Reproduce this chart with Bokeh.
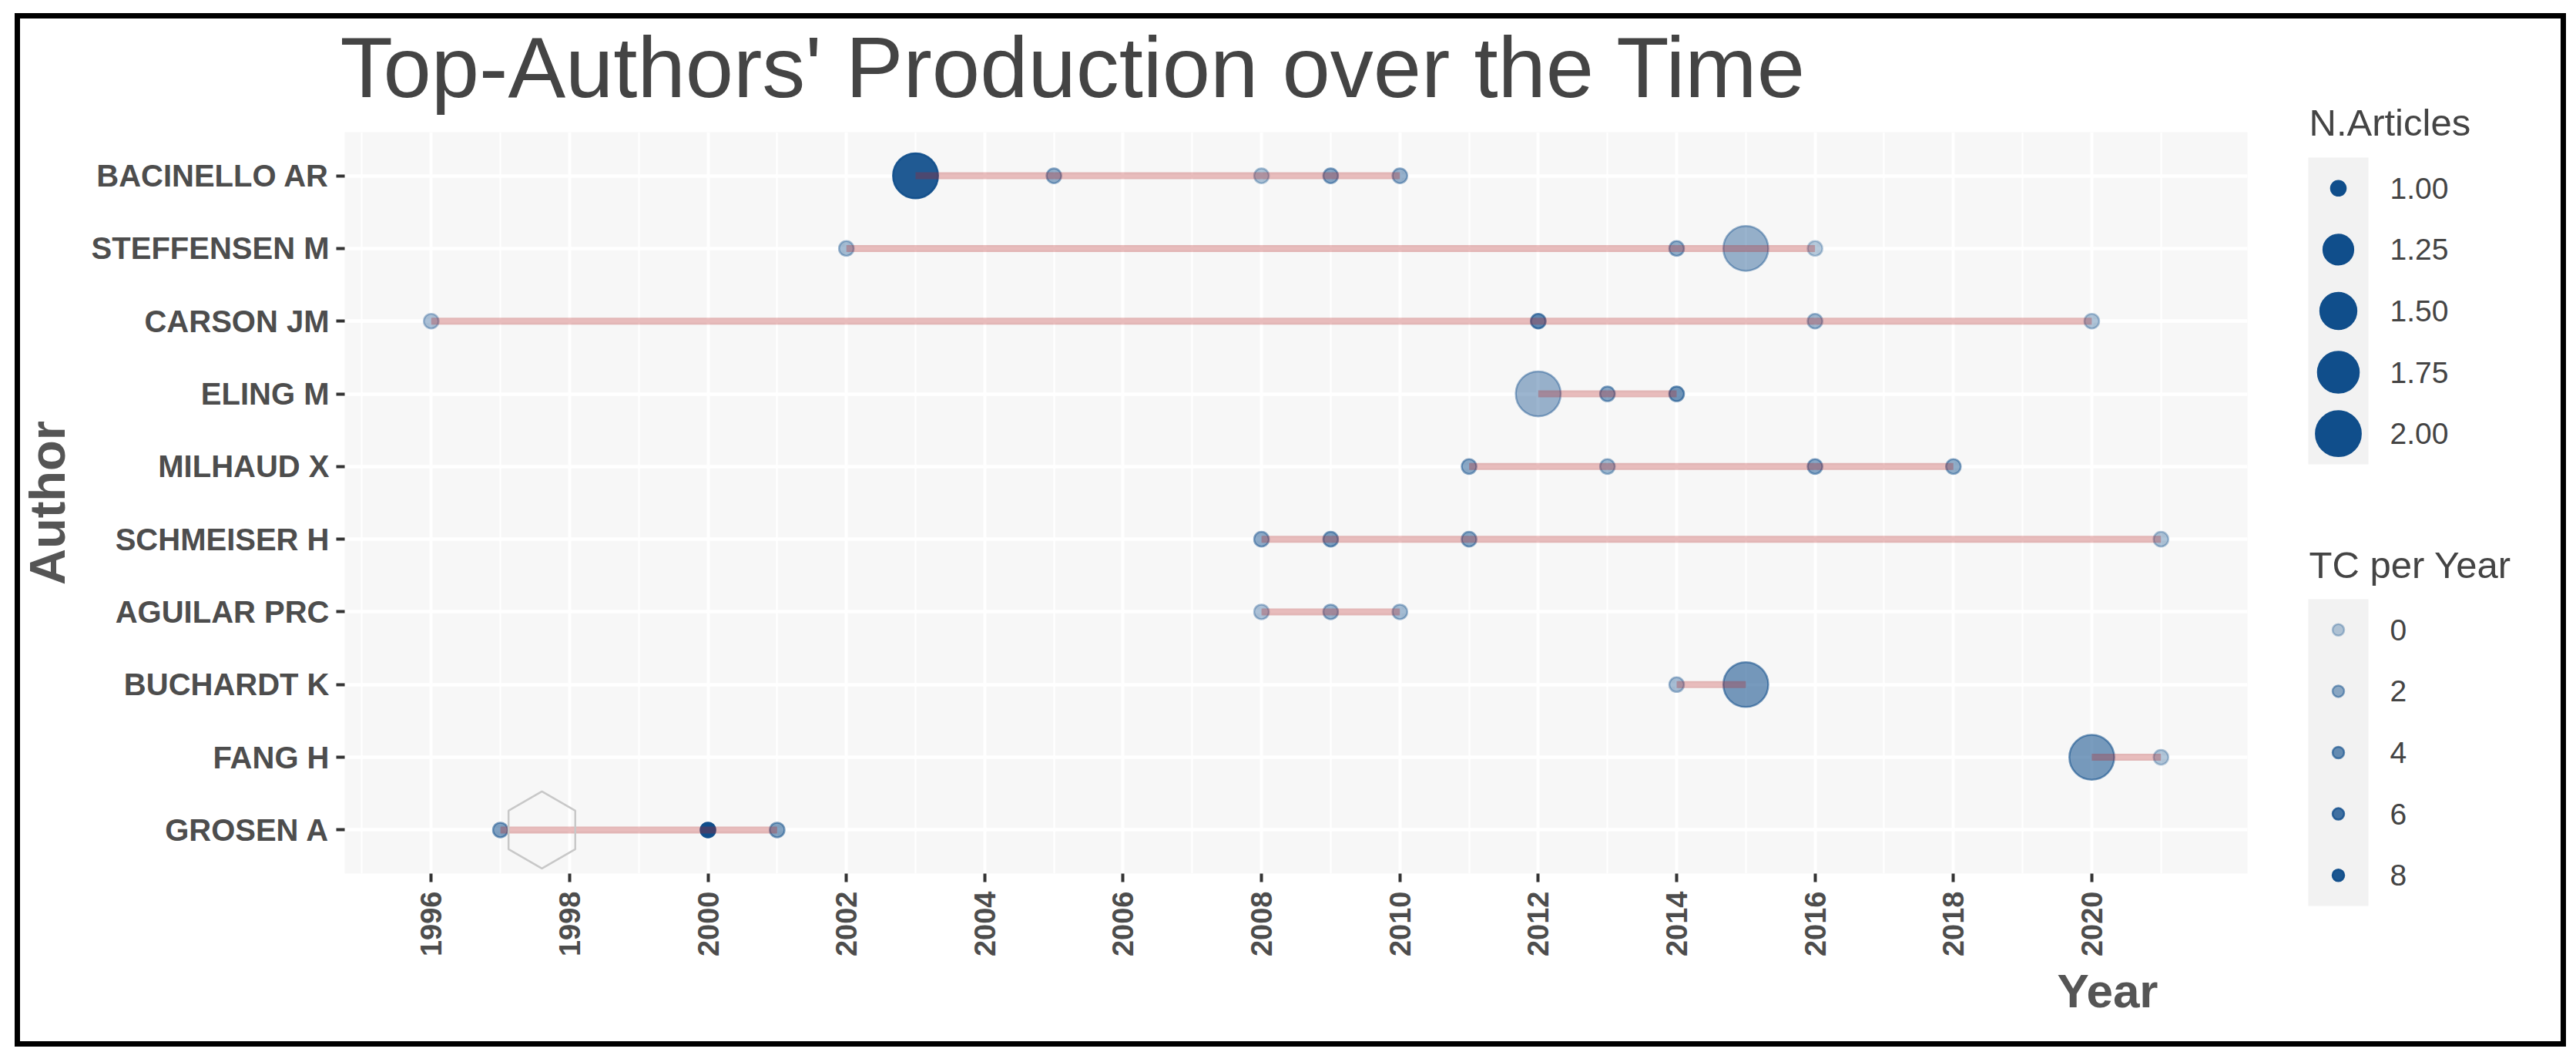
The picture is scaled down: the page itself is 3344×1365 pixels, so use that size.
import math
from bokeh.plotting import figure
from bokeh.models import Range1d, FixedTicker, Title, ColumnDataSource, Div
from bokeh.core.properties import value
from bokeh.embed import file_html
from bokeh.resources import INLINE

# ---------------- data ----------------
authors = ["BACINELLO AR", "STEFFENSEN M", "CARSON JM", "ELING M", "MILHAUD X",
           "SCHMEISER H", "AGUILAR PRC", "BUCHARDT K", "FANG H", "GROSEN A"]

pt_author = ["BACINELLO AR"] * 5 + ["STEFFENSEN M"] * 4 + ["CARSON JM"] * 4 + \
            ["ELING M"] * 3 + ["MILHAUD X"] * 4 + ["SCHMEISER H"] * 4 + \
            ["AGUILAR PRC"] * 3 + ["BUCHARDT K"] * 2 + ["FANG H"] * 2 + ["GROSEN A"] * 3
pt_year = [2003, 2005, 2008, 2009, 2010,
           2002, 2014, 2015, 2016,
           1996, 2012, 2016, 2020,
           2012, 2013, 2014,
           2011, 2013, 2016, 2018,
           2008, 2009, 2011, 2021,
           2008, 2009, 2010,
           2014, 2015,
           2020, 2021,
           1997, 2000, 2001]
pt_articles = [2, 1, 1, 1, 1,
               1, 1, 2, 1,
               1, 1, 1, 1,
               2, 1, 1,
               1, 1, 1, 1,
               1, 1, 1, 1,
               1, 1, 1,
               1, 2,
               2, 1,
               1, 1, 1]
pt_tcpy = [7.8, 1.9, 0.5, 2.5, 1.7,
           1.0, 2.0, 1.5, 0.0,
           0.6, 4.5, 1.2, 0.4,
           1.4, 2.6, 3.7,
           2.3, 1.3, 2.5, 2.0,
           2.2, 3.0, 2.4, 0.4,
           0.6, 1.5, 1.0,
           0.9, 3.3,
           3.2, 0.2,
           2.8, 8.6, 2.7]

year_breaks = list(range(1996, 2021, 2))
size_breaks = [1.00, 1.25, 1.50, 1.75, 2.00]
size_labels = ["1.00", "1.25", "1.50", "1.75", "2.00"]
alpha_breaks = [0, 2, 4, 6, 8]
alpha_labels = ["0", "2", "4", "6", "8"]

# ---------------- scales ----------------
POINT_COLOR = "#104E8B"
MM = 9.8
nmin, nmax = min(pt_articles), max(pt_articles)
tmin, tmax = min(pt_tcpy), max(pt_tcpy)


def size_px(n):
    r = (n - nmin) / (nmax - nmin)
    return MM * (2 + 4 * math.sqrt(max(r, 0))) - 0.5


def alpha_of(t):
    return 0.3 + 0.7 * (t - tmin) / (tmax - tmin)


n_auth = len(authors)
ypos_of = {a: n_auth - i for i, a in enumerate(authors)}

src = ColumnDataSource(dict(
    year=pt_year,
    y=[ypos_of[a] for a in pt_author],
    size=[size_px(n) for n in pt_articles],
    alpha=[alpha_of(t) for t in pt_tcpy],
))

seg_start, seg_end, seg_y = [], [], []
for a in authors:
    ys = [yr for au, yr in zip(pt_author, pt_year) if au == a]
    seg_start.append(min(ys))
    seg_end.append(max(ys))
    seg_y.append(ypos_of[a])
seg_src = ColumnDataSource(dict(x0=seg_start, x1=seg_end, y=seg_y))

ymin, ymax = min(pt_year), max(pt_year)
span = ymax - ymin

# ---------------- main figure ----------------
W_ALL, H_ALL = 3326, 1353
p = figure(width=W_ALL, height=H_ALL, output_backend="svg", toolbar_location=None,
           x_range=Range1d(ymin - 0.05 * span, ymax + 0.05 * span),
           y_range=Range1d(1 - 0.6, n_auth + 0.6),
           min_border_left=447, min_border_right=409, min_border_top=171,
           min_border_bottom=220)
p.background_fill_color = "#F7F7F7"
p.border_fill_color = "white"
p.outline_line_color = None

p.title.text = "Top-Authors' Production over the Time"
p.title.text_font = "Liberation Sans"
p.title.text_font_size = "112px"
p.title.text_font_style = "normal"
p.title.text_color = "#444444"
p.title.align = "left"
p.title.offset = -6
p.title.standoff = 44

minor_years = list(range(ymin - 1, ymax + 1, 2))
p.xaxis.ticker = FixedTicker(ticks=year_breaks, minor_ticks=minor_years)
p.yaxis.ticker = FixedTicker(ticks=[ypos_of[a] for a in authors])
p.yaxis.major_label_overrides = {ypos_of[a]: a for a in authors}

for ax in (p.xaxis[0], p.yaxis[0]):
    ax.axis_line_color = None
    ax.major_tick_in = 0
    ax.major_tick_out = 11
    ax.major_tick_line_width = 4
    ax.major_tick_line_color = "#333333"
    ax.minor_tick_line_color = None
    ax.major_label_text_font = "Liberation Sans"
    ax.major_label_text_font_style = "bold"
    ax.major_label_text_color = "#4D4D4D"
p.xaxis.major_label_text_font_size = "38px"
p.xaxis.major_label_orientation = math.pi / 2
p.xaxis.major_label_standoff = 12
p.yaxis.major_label_text_font_size = "40px"
p.yaxis.major_label_standoff = 9

p.yaxis.axis_label = "Author"
p.yaxis.axis_label_text_font = "Liberation Sans"
p.yaxis.axis_label_text_font_style = "bold"
p.yaxis.axis_label_text_font_size = "65px"
p.yaxis.axis_label_text_color = "#555555"
p.yaxis.axis_label_standoff = 18

p.add_layout(Title(text="Year", align="right", offset=116, vertical_align="top",
                   standoff=12, text_font="Liberation Sans", text_font_style="bold",
                   text_font_size="62px", text_color="#555555"), "below")

p.xgrid.grid_line_color = "white"
p.xgrid.grid_line_width = 4
p.xgrid.minor_grid_line_color = "white"
p.xgrid.minor_grid_line_width = 2.2
p.ygrid.grid_line_color = "white"
p.ygrid.grid_line_width = 4.5

p.scatter(x="year", y="y", size="size", source=src, marker="circle",
          fill_color=POINT_COLOR, fill_alpha="alpha",
          line_color=POINT_COLOR, line_alpha="alpha", line_width=2.5)
p.segment(x0="x0", y0="y", x1="x1", y1="y", source=seg_src,
          line_color="firebrick", line_alpha=0.3, line_width=9, line_cap="butt")

# faint hexagonal watermark
WM_X, WM_Y = 1997.6, 1.0
p.scatter(x=[WM_X], y=[WM_Y], marker="hex", size=100, angle=math.pi / 2,
          fill_color=None, line_color="#C8C8C8", line_width=2.5)

# ---------------- legend figure (overlaid on the right margin) ----------------
W_LEG, H_LEG = 359, 1330
q = figure(width=W_LEG, height=H_LEG, output_backend="svg", toolbar_location=None,
           x_range=Range1d(0, W_LEG), y_range=Range1d(H_LEG, 0),
           x_axis_location=None, y_axis_location=None,
           min_border=0, min_border_left=0, min_border_right=0,
           min_border_top=0, min_border_bottom=0)
q.background_fill_color = "white"
q.border_fill_color = "white"
q.outline_line_color = None
q.grid.visible = False
q.styles = {"position": "absolute", "left": "2958px", "top": "15px"}

KEY_L, KEY_R = 38, 116
KEY_H = 79.6
LAB_X = 144
KEY_CX = (KEY_L + KEY_R) / 2


def legend_block(title, top, labels, sizes, alphas, title_mid):
    n = len(labels)
    q.quad(left=[KEY_L], right=[KEY_R], top=[top], bottom=[top + KEY_H * n],
           fill_color="#F2F2F2", line_color=None)
    cy = [top + KEY_H * (i + 0.5) for i in range(n)]
    q.scatter(x=[KEY_CX] * n, y=cy, size=sizes, fill_color=POINT_COLOR,
              fill_alpha=alphas, line_color=POINT_COLOR, line_alpha=alphas,
              line_width=2.5)
    q.text(x=[LAB_X] * n, y=cy, text=labels,
           text_font=value("Liberation Sans"), text_font_size="39px",
           text_color="#444444", text_baseline="middle")
    q.text(x=[KEY_L + 1], y=[title_mid], text=[title],
           text_font=value("Liberation Sans"), text_font_size="49px",
           text_color="#444444", text_baseline="middle")


legend_block("N.Articles", 189, size_labels,
             [size_px(b) for b in size_breaks], [1.0] * len(size_breaks), 143)
legend_block("TC per Year", 762, alpha_labels,
             [15] * len(alpha_breaks), [alpha_of(b) for b in alpha_breaks], 717)

# ---------------- black frame round the whole picture ----------------
frame = Div(text="", width=3312, height=1341,
            styles={"position": "absolute", "left": "14px", "top": "12px",
                    "border": "7px solid black", "box-sizing": "border-box",
                    "pointer-events": "none", "background": "transparent"})

open("out.html", "w").write(file_html([p, q, frame], INLINE))
